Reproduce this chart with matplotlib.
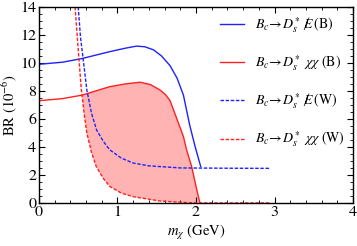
import numpy as np
import matplotlib
matplotlib.use("Agg")
import matplotlib.pyplot as plt
from matplotlib.ticker import MultipleLocator

plt.rcParams['font.family'] = ['STIXGeneral', 'DejaVu Serif']
plt.rcParams['mathtext.fontset'] = 'stix'

# B_c -> D_s* missing energy (B), solid blue
xb_B = [0, 0.3, 0.54, 0.9, 1.1, 1.245, 1.35, 1.46, 1.56, 1.67, 1.76, 1.84, 1.92, 1.99, 2.06]
yb_B = [9.9, 10.05, 10.3, 10.8, 11.05, 11.2, 11.15, 10.93, 10.5, 9.8, 8.9, 7.7, 5.55, 4.0, 2.6]

# B_c -> D_s* chi chi (B), solid red
xr_B = [0, 0.3, 0.55, 0.9, 1.1, 1.29, 1.42, 1.54, 1.61, 1.67, 1.75, 1.84, 1.88, 1.945, 2.01, 2.05]
yr_B = [7.3, 7.45, 7.7, 8.3, 8.5, 8.62, 8.45, 8.07, 7.75, 7.3, 6.1, 4.74, 3.79, 2.6, 0.93, 0.0]

# B_c -> D_s* missing energy (W), dashed blue
xb_W = [0.50, 0.53, 0.565, 0.61, 0.67, 0.735, 0.82, 0.9, 1.05, 1.2, 1.4, 1.8, 2.4, 2.95]
yb_W = [14, 11.8, 10.2, 8.07, 6.4, 5.2, 4.4, 3.8, 3.2, 2.85, 2.65, 2.5, 2.48, 2.47]

# B_c -> D_s* chi chi (W), dashed red
xr_W = [0.46, 0.5, 0.54, 0.58, 0.61, 0.67, 0.73, 0.82, 0.905, 1.05, 1.2, 1.54, 1.9, 2.05, 2.95]
yr_W = [14, 11, 8.07, 6.2, 5.0, 3.6, 2.6, 1.75, 1.17, 0.7, 0.45, 0.14, 0.02, 0.0, 0.0]

labels = [r'$B_c\!\to\! D_s^*\ \ \not\!\!\!E\,$(B)',
          r'$B_c\!\to\! D_s^*\ \chi\chi$ (B)',
          r'$B_c\!\to\! D_s^*\ \ \not\!\!\!E\,$(W)',
          r'$B_c\!\to\! D_s^*\ \chi\chi$ (W)']

fig = plt.figure(figsize=(3.57, 2.46), dpi=100)
ax = fig.add_axes([0.109, 0.175, 0.88, 0.797])

# shaded band between the two red curves
xs, ys = np.array(xr_B), np.array(yr_B)
xd, yd = np.array(xr_W), np.array(yr_W)
m1 = xs >= 0.55
m2 = (xd >= 0.55) & (xd <= 2.05)
px = np.concatenate([xs[m1], xd[m2][::-1]])
py = np.concatenate([ys[m1], yd[m2][::-1]])
ax.fill(px, py, color='#ffb3b3', lw=0)

ax.plot(xb_B, yb_B, color='#2020ff', lw=1.0, label=labels[0])
ax.plot(xr_B, yr_B, color='#ff2020', lw=1.0, label=labels[1])
ax.plot(xb_W, yb_W, color='#2020ff', lw=1.0, ls=(0, (2.5, 1.2)), label=labels[2])
ax.plot(xr_W, yr_W, color='#ff2020', lw=1.0, ls=(0, (2.5, 1.2)), label=labels[3])

ax.set_xlim(0, 4)
ax.set_ylim(0, 14)
ax.xaxis.set_major_locator(MultipleLocator(1))
ax.xaxis.set_minor_locator(MultipleLocator(0.2))
ax.yaxis.set_major_locator(MultipleLocator(2))
ax.yaxis.set_minor_locator(MultipleLocator(0.5))
ax.tick_params(which='both', direction='in', top=True, right=True, labelsize=11.5, pad=2)
ax.tick_params(which='major', length=4, width=0.8)
ax.tick_params(which='minor', length=2, width=0.6)
for s in ax.spines.values():
    s.set_linewidth(1.0)

ax.set_xlabel(r'$m_\chi$ (GeV)', fontsize=10.5, labelpad=3)
ax.set_ylabel(r'BR $(10^{-6})$', fontsize=10.5, labelpad=1)

ax.legend(loc='upper right', frameon=False, fontsize=10, handlelength=1.7,
          handletextpad=0.8, labelspacing=1.35, borderaxespad=0.2)

fig.savefig('out.png', dpi=100)
